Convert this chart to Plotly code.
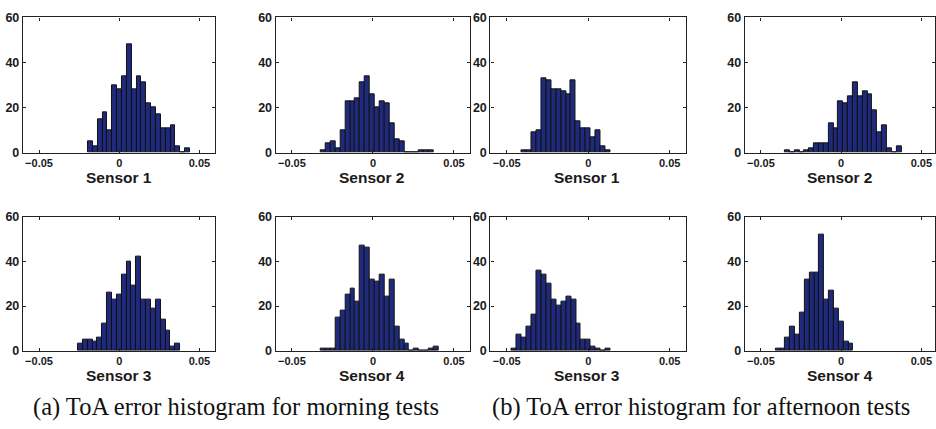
import numpy as np
import plotly.graph_objects as go

# ---------------- data ----------------
BIN_WIDTH = 0.00303

# morning tests
m_s1_start = -0.0195
m_s1_counts = [5, 3, 15, 18, 10, 30, 28, 34, 48, 28, 34, 31, 22, 20, 17, 11, 11, 12, 3, 0, 2]
m_s2_start = -0.0322
m_s2_counts = [1, 4, 5, 2, 10, 23, 23, 24, 31, 34, 26, 20, 23, 22, 13, 6, 5, 0, 0, 0, 1, 1, 1]
m_s3_start = -0.0257
m_s3_counts = [3, 5, 5, 4, 6, 12, 26, 23, 25, 34, 40, 29, 42, 23, 23, 19, 23, 14, 9, 2, 3]
m_s4_start = -0.0322
m_s4_counts = [1, 1, 1, 15, 18, 25, 28, 22, 47, 46, 32, 31, 34, 24, 32, 11, 5, 3, 0, 1, 0, 0, 1, 2]

# afternoon tests
a_s1_start = -0.0409
a_s1_counts = [1, 1, 9, 10, 33, 32, 28, 28, 27, 26, 32, 14, 11, 11, 7, 10, 3, 1]
a_s2_start = -0.0351
a_s2_counts = [1, 0, 1, 0, 1, 2, 4, 4, 4, 13, 11, 23, 22, 25, 31, 25, 27, 26, 19, 9, 12, 2, 0, 3]
a_s3_start = -0.0469
a_s3_counts = [1, 7, 6, 11, 16, 36, 34, 30, 23, 20, 22, 24, 23, 12, 5, 5, 2, 1, 0, 1]
a_s4_start = -0.0409
a_s4_counts = [1, 1, 6, 11, 7, 17, 32, 35, 35, 52, 23, 27, 19, 13, 4, 3]

panel_titles = ["Sensor 1", "Sensor 2", "Sensor 1", "Sensor 2",
                "Sensor 3", "Sensor 4", "Sensor 3", "Sensor 4"]
captions = ["(a) ToA error histogram for morning tests",
            "(b) ToA error histogram for afternoon tests"]
x_tick_vals = [-0.05, 0, 0.05]
x_tick_text = ["\u22120.05", "0", "0.05"]
y_tick_vals = [0, 20, 40, 60]

panels = [
    (m_s1_start, m_s1_counts), (m_s2_start, m_s2_counts),
    (a_s1_start, a_s1_counts), (a_s2_start, a_s2_counts),
    (m_s3_start, m_s3_counts), (m_s4_start, m_s4_counts),
    (a_s3_start, a_s3_counts), (a_s4_start, a_s4_counts),
]

# ---------------- layout geometry ----------------
W, H = 936, 429
col_px = [(23, 215.7), (276, 470.7), (491, 686.7), (745.7, 936)]
row_px = [(10.7, 150.7), (216.7, 355.3)]
x_ranges = [[-0.06, 0.06], [-0.06, 0.06], [-0.06, 0.06], [-0.06, 0.0585]]

BAR_COLOR = "#1f2a7c"
EDGE_COLOR = "#111111"
AXIS_COLOR = "#222222"
TEXT_COLOR = "#1a1a1a"

fig = go.Figure()
layout = dict(
    width=W, height=H,
    margin=dict(l=0, r=0, t=0, b=0),
    paper_bgcolor="white", plot_bgcolor="white",
    showlegend=False, bargap=0,
)
annotations = []

for i, (start, counts) in enumerate(panels):
    r, c = divmod(i, 4)
    idx = "" if i == 0 else str(i + 1)
    counts = np.array(counts, dtype=float)
    centers = start + BIN_WIDTH * (np.arange(len(counts)) + 0.5)
    fig.add_trace(go.Bar(
        x=centers, y=counts, width=BIN_WIDTH,
        marker=dict(color=BAR_COLOR, line=dict(color=EDGE_COLOR, width=1)),
        xaxis="x" + idx, yaxis="y" + idx, hoverinfo="skip",
    ))
    x0, x1 = col_px[c]
    y0, y1 = row_px[r]
    common = dict(
        showline=True, linecolor=AXIS_COLOR, linewidth=1.3, mirror="ticks",
        ticks="inside", ticklen=3, tickcolor=AXIS_COLOR, tickwidth=1,
        showgrid=False, zeroline=False,
    )
    layout["xaxis" + idx] = dict(
        domain=[x0 / W, x1 / W], range=x_ranges[c],
        tickvals=x_tick_vals, ticktext=x_tick_text,
        anchor="y" + idx,
        tickfont=dict(family="Liberation Sans", size=11, color=TEXT_COLOR, weight="bold"),
        **common,
    )
    layout["yaxis" + idx] = dict(
        domain=[1 - y1 / H, 1 - y0 / H], range=[0, 60],
        tickvals=y_tick_vals, anchor="x" + idx,
        tickfont=dict(family="Liberation Sans", size=12.5, color=TEXT_COLOR, weight="bold"),
        **common,
    )
    annotations.append(dict(
        text=panel_titles[i], xref="paper", yref="paper",
        x=((x0 + min(x1, x0 + 192.7)) / 2) / W, y=1 - (y1 + 14.5) / H,
        xanchor="center", yanchor="top", showarrow=False,
        font=dict(family="Liberation Sans", size=15.5, color=TEXT_COLOR, weight="bold"),
    ))

for cx, txt in zip([236, 702], captions):
    annotations.append(dict(
        text=txt, xref="paper", yref="paper", x=cx / W, y=1 - 413 / H,
        xanchor="center", yanchor="middle", showarrow=False,
        font=dict(family="Liberation Serif", size=24.5, color="#111111"),
    ))

layout["annotations"] = annotations
fig.update_layout(**layout)
fig.write_html("out.html")
